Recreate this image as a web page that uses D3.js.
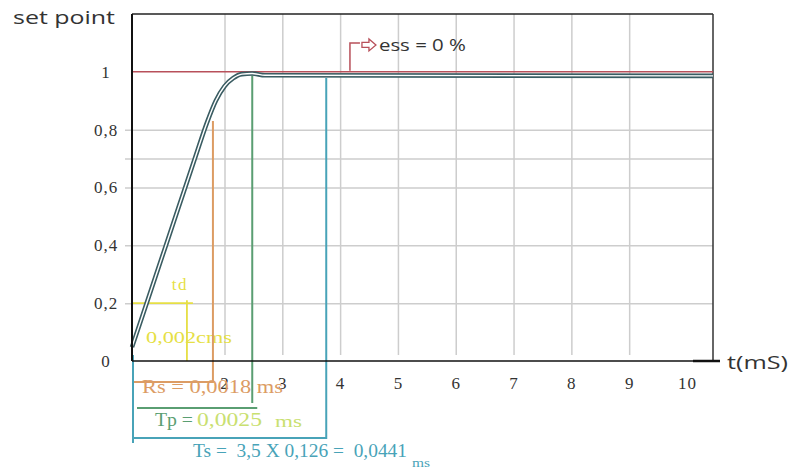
<!DOCTYPE html>
<html>
<head>
<meta charset="utf-8">
<script src="https://cdn.jsdelivr.net/npm/d3@7"></script>
<style>
  body { margin: 0; background: #fff; }
  svg { display: block; }
  .serif { font-family: "Liberation Serif", "DejaVu Serif", serif; }
  .sans { font-family: "Open Sans", "Liberation Sans", sans-serif; }
</style>
</head>
<body>
<div id="chart"></div>
<script>
// step response (t in mS, value relative to set point)
const timeMs = [0.4, 0.8, 1.2, 1.5, 1.7, 1.85, 2.0, 2.15, 2.3, 2.48, 2.7, 10.45];
const response = [0.048, 0.288, 0.528, 0.708, 0.826, 0.9, 0.95, 0.978, 0.992, 0.994, 0.988, 0.986];
const setPoint = 1;

const xTicks = [2, 3, 4, 5, 6, 7, 8, 9, 10];
const xGrid = [2, 3, 4, 5, 6, 7, 8, 9];
const yTicks = [0, 0.2, 0.4, 0.6, 0.8, 1];
const yTickLabels = ["0", "0,2", "0,4", "0,6", "0,8", "1"];
const yGrid = [0.2, 0.4, 0.6, 0.7, 0.8];

// annotation marks
const tdTime = 1.35, tdLevel = 0.2;
const rsTime = 1.8, rsLevel = 0.83;
const tpTime = 2.48;
const tsTime = 3.76;
const essTime = 4.17, essTop = 1.1;

const width = 792, height = 475;
const margin = {top: 14, right: 79, bottom: 114, left: 132};

const svg = d3.select("#chart").append("svg")
    .attr("width", width)
    .attr("height", height);

const x = d3.scaleLinear().domain([0.4, 10.45]).range([margin.left, width - margin.right]);
const y = d3.scaleLinear().domain([0, 1.2]).range([height - margin.bottom, margin.top]);
const x0 = x.range()[0], x1 = x.range()[1];
const yBase = y(0);

// grid
svg.append("g")
    .attr("transform", `translate(0,${margin.top})`)
    .call(d3.axisBottom(x).tickValues(xGrid).tickSize(yBase - margin.top - 6).tickFormat(""))
    .call(g => g.select(".domain").remove())
    .call(g => g.selectAll("line").attr("stroke", "#cdcdcd").attr("stroke-width", 1.5));

svg.append("g")
    .attr("transform", `translate(${x1},0)`)
    .call(d3.axisLeft(y).tickValues(yGrid).tickSize(x1 - x0 + 7).tickFormat(""))
    .call(g => g.select(".domain").remove())
    .call(g => g.selectAll("line").attr("stroke", "#cdcdcd").attr("stroke-width", 1.5));

// frame
svg.append("line").attr("x1", x0).attr("x2", x1).attr("y1", margin.top).attr("y2", margin.top)
    .attr("stroke", "#222").attr("stroke-width", 1.5);
svg.append("line").attr("x1", x1).attr("x2", x1).attr("y1", margin.top).attr("y2", yBase)
    .attr("stroke", "#333").attr("stroke-width", 1.5);

// axes labels
svg.append("g")
    .attr("transform", `translate(0,${yBase})`)
    .call(d3.axisBottom(x).tickValues(xTicks).tickSize(0).tickPadding(16))
    .call(g => g.select(".domain").remove())
    .call(g => g.selectAll("text").attr("class", "serif").attr("font-size", 17)
        .attr("letter-spacing", 1).attr("fill", "#333"));

svg.append("g")
    .attr("transform", `translate(${x0},0)`)
    .call(d3.axisLeft(y).tickValues(yTicks).tickSize(0).tickFormat((d, i) => yTickLabels[i]))
    .call(g => g.select(".domain").remove())
    .call(g => g.selectAll("text").attr("class", "serif").attr("font-size", 17)
        .attr("letter-spacing", 1).attr("fill", "#333")
        .attr("text-anchor", "middle").attr("x", -26));

// set point line
svg.append("line").attr("x1", x0).attr("x2", x1).attr("y1", y(setPoint)).attr("y2", y(setPoint))
    .attr("stroke", "#b8505a").attr("stroke-width", 1.5);

// td (yellow)
const yellow = "#e6df45";
svg.append("path")
    .attr("d", `M${x0},${y(tdLevel)}H${x(tdTime) + 6}M${x(tdTime)},${y(tdLevel) - 3}V${yBase}`)
    .attr("stroke", yellow).attr("stroke-width", 1.8).attr("fill", "none");
svg.append("text").attr("class", "serif").attr("x", x(tdTime) - 7).attr("y", y(tdLevel) - 13)
    .attr("text-anchor", "middle").attr("font-size", 17).attr("letter-spacing", 1.5)
    .attr("fill", yellow).text("td");
svg.append("text").attr("class", "serif").attr("x", x0 + 14).attr("y", y(tdLevel) + 40)
    .attr("font-size", 17).attr("textLength", 86).attr("lengthAdjust", "spacingAndGlyphs")
    .attr("fill", yellow).text("0,002cms");

// Rs (orange)
const orange = "#dc9c64";
svg.append("path")
    .attr("d", `M${x(rsTime)},${y(rsLevel)}V${yBase + 21}H${x0}`)
    .attr("stroke", orange).attr("stroke-width", 2).attr("fill", "none");

// Tp (green)
const green = "#5a9e72";
svg.append("path")
    .attr("d", `M${x(tpTime)},${y(response[9]) + 2}V${yBase + 42}M${x0 + 5},${yBase + 47}H${x(tpTime) + 5}`)
    .attr("stroke", green).attr("stroke-width", 2).attr("fill", "none");

// Ts (teal)
const teal = "#48a3b8";
svg.append("path")
    .attr("d", `M${x(tsTime)},${y(response[11]) + 2}V${yBase + 77}H${x0 + 1}M${x0 + 1},${yBase - 6}V${yBase + 82}`)
    .attr("stroke", teal).attr("stroke-width", 2).attr("fill", "none");

// response curve (double line)
const line = d3.line().x((d, i) => x(timeMs[i])).y(d => y(d)).curve(d3.curveMonotoneX);
svg.append("path").datum(response).attr("d", line)
    .attr("fill", "none").attr("stroke", "#3a5c62").attr("stroke-width", 4.6);
svg.append("path").datum(response).attr("d", line)
    .attr("fill", "none").attr("stroke", "#fff").attr("stroke-width", 1.4);

// left axis and bottom axis lines
svg.append("line").attr("x1", x0).attr("x2", x0).attr("y1", margin.top).attr("y2", yBase)
    .attr("stroke", "#111").attr("stroke-width", 2);
svg.append("line").attr("x1", x0).attr("x2", x1).attr("y1", yBase).attr("y2", yBase)
    .attr("stroke", "#111").attr("stroke-width", 1.5);
svg.append("line").attr("x1", x1 - 20).attr("x2", x1 + 7).attr("y1", yBase).attr("y2", yBase)
    .attr("stroke", "#111").attr("stroke-width", 2.5);

// ess annotation
const red = "#b8505a";
svg.append("path")
    .attr("d", `M${x(essTime)},${y(setPoint) - 1}V${y(essTop)}H${x(essTime) + 10}`)
    .attr("stroke", red).attr("stroke-width", 1.5).attr("fill", "none");
svg.append("path")
    .attr("transform", `translate(${x(essTime) + 12},${y(essTop) + 2})`)
    .attr("d", "M0,-2.5H7V-6L14,0L7,6V2.5H0Z")
    .attr("stroke", red).attr("stroke-width", 1.3).attr("fill", "#fff");
svg.append("text").attr("class", "sans").attr("x", x(essTime) + 29).attr("y", y(essTop) + 8)
    .attr("font-size", 16).attr("textLength", 87).attr("lengthAdjust", "spacingAndGlyphs")
    .attr("fill", "#333").text("ess = 0 %");

// bottom annotation texts
svg.append("text").attr("class", "serif").attr("x", x0 + 10).attr("y", yBase + 32)
    .attr("font-size", 19).attr("textLength", 141).attr("lengthAdjust", "spacingAndGlyphs")
    .attr("fill", orange).text("Rs = 0,0018 ms");

svg.append("text").attr("class", "serif").attr("x", x0 + 23).attr("y", yBase + 65)
    .attr("font-size", 19).attr("textLength", 38).attr("lengthAdjust", "spacingAndGlyphs")
    .attr("fill", green).text("Tp =");
svg.append("text").attr("class", "serif").attr("x", x0 + 65).attr("y", yBase + 65)
    .attr("font-size", 19).attr("textLength", 65).attr("lengthAdjust", "spacingAndGlyphs")
    .attr("fill", "#c9e070").text("0,0025");
svg.append("text").attr("class", "serif").attr("x", x0 + 143).attr("y", yBase + 66)
    .attr("font-size", 17).attr("textLength", 27).attr("lengthAdjust", "spacingAndGlyphs")
    .attr("fill", "#c9e070").text("ms");

svg.append("text").attr("class", "serif").attr("x", x0 + 61).attr("y", yBase + 96)
    .attr("font-size", 18).attr("textLength", 214).attr("lengthAdjust", "spacingAndGlyphs")
    .attr("fill", teal).style("white-space", "pre").text("Ts =  3,5 X 0,126 =  0,0441");
svg.append("text").attr("class", "serif").attr("x", x0 + 280).attr("y", yBase + 106)
    .attr("font-size", 13).attr("textLength", 18).attr("lengthAdjust", "spacingAndGlyphs")
    .attr("fill", teal).text("ms");

// titles
svg.append("text").attr("class", "sans").attr("x", 13).attr("y", 24)
    .attr("font-size", 18).attr("textLength", 102).attr("lengthAdjust", "spacingAndGlyphs")
    .attr("fill", "#333").text("set point");
svg.append("text").attr("class", "sans").attr("x", x1 + 14).attr("y", yBase + 8)
    .attr("font-size", 19).attr("textLength", 61).attr("lengthAdjust", "spacingAndGlyphs")
    .attr("fill", "#333").text("t(mS)");
</script>
</body>
</html>
